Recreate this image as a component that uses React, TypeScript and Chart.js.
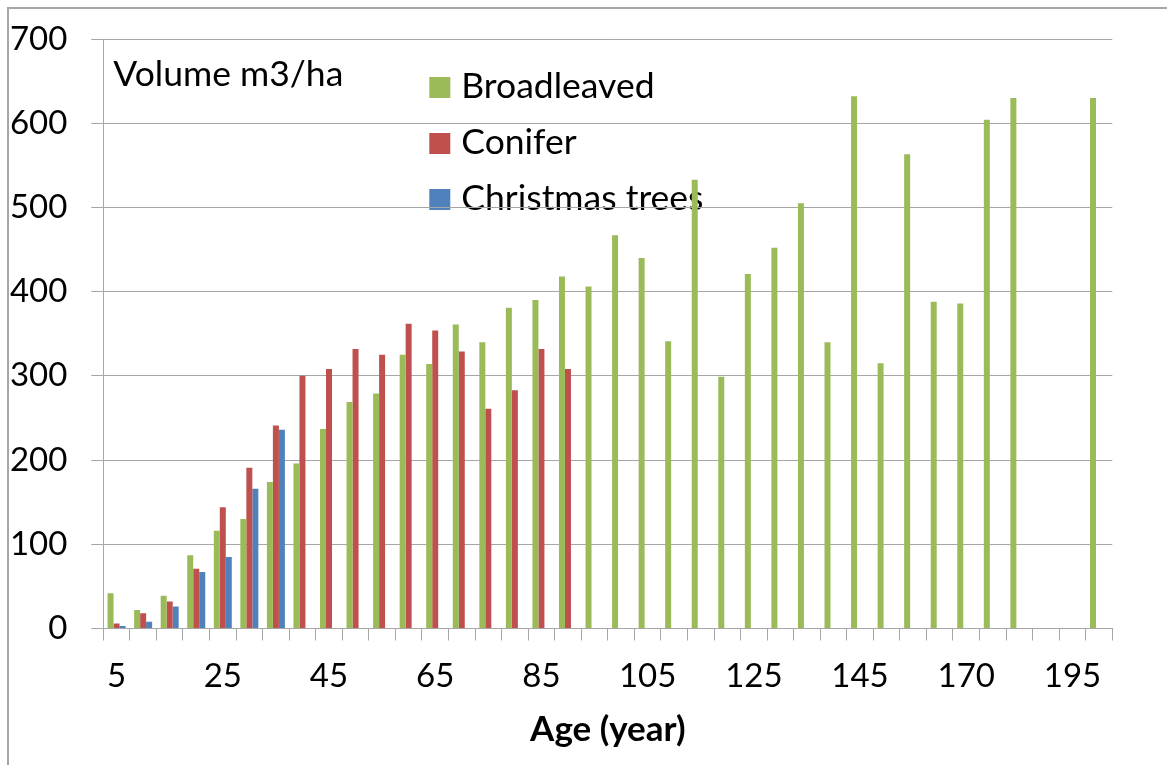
import React, { useEffect, useRef } from 'react';
import { Chart, registerables } from 'chart.js';

Chart.register(...registerables);

const ages = ['5', '10', '15', '20', '25', '30', '35', '40', '45', '50', '55', '60', '65', '70', '75', '80', '85', '90', '95', '100', '105', '110', '115', '120', '125', '130', '135', '140', '145', '150', '155', '160', '170', '175', '180', '185', '195', '200'];

const broadleaved = [42, 22, 39, 87, 116, 130, 174, 196, 237, 269, 279, 325, 314, 361, 340, 381, 390, 418, 406, 467, 440, 341, 533, 299, 421, 452, 505, 340, 632, 315, 563, 388, 386, 604, 630, null, null, 630];

const conifer = [6, 18, 32, 71, 144, 191, 241, 300, 308, 332, 325, 362, 354, 329, 261, 283, 332, 308, null, null, null, null, null, null, null, null, null, null, null, null, null, null, null, null, null, null, null, null];

const christmasTrees = [3, 8, 26, 67, 85, 166, 236, null, null, null, null, null, null, null, null, null, null, null, null, null, null, null, null, null, null, null, null, null, null, null, null, null, null, null, null, null, null, null];

const seriesNames = ['Broadleaved', 'Conifer', 'Christmas trees'];
const seriesColors = ['#9BBB59', '#C0504D', '#4F81BD'];
const yTickStep = 100;
const yMax = 700;
const xLabelEvery = 4;
const axisTitle = 'Age (year)';
const unitNote = 'Volume m3/ha';

const FONT = 'Lato, "Open Sans", sans-serif';
const GRID = '#A6A6A6';

const overlay = {
  id: 'overlay',
  beforeDraw(chart: any) {
    const { ctx, chartArea } = chart;
    ctx.save();
    ctx.font = `35.5px ${FONT}`;
    ctx.fillStyle = '#000';
    ctx.textBaseline = 'alphabetic';
    ctx.textAlign = 'left';
    ctx.fillText(unitNote, chartArea.left + 10, chartArea.top + 47);
    chart.data.datasets.forEach((ds: any, k: number) => {
      const base = chartArea.top + 59 + k * 56;
      ctx.fillStyle = ds.backgroundColor;
      ctx.fillRect(chartArea.left + 326, base - 21, 21, 21);
      ctx.fillStyle = '#000';
      ctx.fillText(ds.label, chartArea.left + 358, base);
    });
    ctx.restore();
  },
};

export default function App() {
  const ref = useRef<HTMLCanvasElement | null>(null);

  useEffect(() => {
    if (!ref.current) return;
    const chart = new Chart(ref.current, {
      type: 'bar',
      data: {
        labels: ages,
        datasets: [
          { label: seriesNames[0], data: broadleaved, backgroundColor: seriesColors[0] },
          { label: seriesNames[1], data: conifer, backgroundColor: seriesColors[1] },
          { label: seriesNames[2], data: christmasTrees, backgroundColor: seriesColors[2] },
        ],
      },
      options: {
        animation: false,
        responsive: false,
        devicePixelRatio: 1,
        datasets: { bar: { categoryPercentage: 0.678, barPercentage: 1, borderWidth: 0 } },
        layout: { padding: { left: 0, right: 54.7, top: 39, bottom: 0 } },
        plugins: { legend: { display: false }, tooltip: { enabled: false } },
        scales: {
          x: {
            type: 'category',
            grid: { display: true, drawOnChartArea: false, drawTicks: true, tickLength: 12, color: GRID, offset: true },
            border: { display: true, color: GRID },
            ticks: {
              autoSkip: false,
              maxRotation: 0,
              minRotation: 0,
              color: '#000',
              font: { family: FONT, size: 33 },
              padding: 16,
              callback: (_v: any, i: number) => (i % xLabelEvery === 0 ? ages[i] : ''),
            },
            title: {
              display: true,
              text: axisTitle,
              color: '#000',
              font: { family: FONT, size: 35, weight: 'bold' },
              padding: { top: 0, bottom: 14 },
            },
            afterFit: (s: any) => {
              s.height = 136.5;
              s.paddingLeft = 0;
              s.paddingRight = 0;
            },
          },
          y: {
            min: 0,
            max: yMax,
            grid: { color: GRID, tickLength: 12, drawTicks: true },
            border: { display: true, color: GRID },
            ticks: { stepSize: yTickStep, color: '#000', font: { family: FONT, size: 33 }, padding: 24 },
            afterFit: (s: any) => {
              s.width = 103.3;
              s.paddingTop = 0;
              s.paddingBottom = 0;
            },
          },
        },
      },
      plugins: [overlay],
    } as any);
    return () => chart.destroy();
  }, []);

  return (
    <div style={{ position: 'fixed', left: 0, top: 0, width: 1167, height: 765, background: '#fff', overflow: 'hidden' }}>
      <div
        style={{
          position: 'absolute',
          left: 7,
          top: 7,
          width: 1300,
          height: 900,
          borderLeft: '2px solid #A6A6A6',
          borderTop: '2px solid #A6A6A6',
        }}
      />
      <canvas ref={ref} width={1167} height={765} style={{ position: 'absolute', left: 0, top: 0, width: 1167, height: 765 }} />
    </div>
  );
}
